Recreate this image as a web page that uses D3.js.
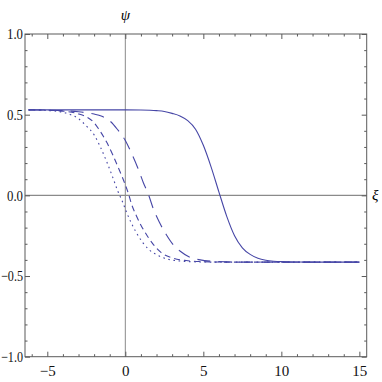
<!DOCTYPE html>
<html><head><meta charset="utf-8">
<script src="https://cdn.jsdelivr.net/npm/d3@7"></script>
<style>html,body{margin:0;padding:0;background:#fff}svg{display:block}
svg text{font-family:"Liberation Serif",serif;}
</style>
</head><body>
<script>
// ---- data ----
const solidX = [-6.2,-4,-2,0,1,2,2.5,3,3.5,4,4.5,5,5.5,6,6.5,7,7.5,8,8.5,9,9.5,10,11,12,13,15];
const solidY = [0.530,0.530,0.530,0.530,0.529,0.525,0.520,0.508,0.492,0.463,0.410,0.310,0.175,0.020,-0.130,-0.250,-0.325,-0.366,-0.390,-0.402,-0.408,-0.411,-0.413,-0.414,-0.414,-0.414];

const longX = [-6.2,-5,-4,-3,-2.5,-2,-1.5,-1,-0.5,0,0.4,0.8,1.15,1.5,1.8,2.2,2.6,3.1,3.5,4.1,4.8,5.5,6.5,8,15];
const longY = [0.530,0.528,0.525,0.518,0.512,0.504,0.490,0.462,0.408,0.340,0.260,0.170,0.080,0.000,-0.085,-0.170,-0.240,-0.310,-0.345,-0.382,-0.400,-0.408,-0.412,-0.414,-0.414];

const medX = [-6.2,-5,-4,-3,-2.5,-2,-1.7,-1.2,-0.8,-0.4,0,0.2,0.4,0.7,1.0,1.4,1.8,2.3,3.0,3.9,5,7,15];
const medY = [0.530,0.528,0.522,0.505,0.487,0.450,0.410,0.330,0.250,0.160,0.065,0.010,-0.055,-0.125,-0.185,-0.250,-0.305,-0.355,-0.387,-0.404,-0.411,-0.414,-0.414];

const dotX = [-6.2,-5,-4,-3.5,-3,-2.5,-2,-1.6,-1.2,-0.8,-0.5,-0.2,0.1,0.4,0.7,1.1,1.5,2,2.8,3.5,4.5,6,15];
const dotY = [0.530,0.526,0.515,0.500,0.475,0.430,0.375,0.300,0.210,0.110,0.030,-0.035,-0.110,-0.175,-0.230,-0.290,-0.335,-0.368,-0.398,-0.407,-0.412,-0.414,-0.414];

const xMajor = [-5,0,5,10,15];
const xMinor = [-6,-4,-3,-2,-1,1,2,3,4,6,7,8,9,11,12,13,14];
const yMajor = [-1,-0.5,0,0.5,1];
const yMajorLabels = ["\u22121.0","\u22120.5","0.0","0.5","1.0"];
const yMinor = [-0.9,-0.8,-0.7,-0.6,-0.4,-0.3,-0.2,-0.1,0.1,0.2,0.3,0.4,0.6,0.7,0.8,0.9];

// ---- drawing ----
const W = 382, H = 382;
const L = 25, R = 366.7, T = 34, B = 356.7;
const svg = d3.select("body").append("svg").attr("width", W).attr("height", H);
const x = d3.scaleLinear().domain([-6.43, 15.47]).range([L, R]);
const y = d3.scaleLinear().domain([-1, 1]).range([B, T]);

const frameColor = "#5a5a5a";
const font = "Liberation Serif";

// axes through origin
svg.append("line").attr("x1", x(0)).attr("x2", x(0)).attr("y1", T).attr("y2", B)
  .attr("stroke", "#8a8a8a").attr("stroke-width", 1);
svg.append("line").attr("x1", L).attr("x2", R).attr("y1", y(0)).attr("y2", y(0))
  .attr("stroke", "#8a8a8a").attr("stroke-width", 1.2);

function styleAxis(g, labels) {
  g.attr("font-family", font);
  g.select(".domain").remove();
  g.selectAll(".tick line").attr("stroke", frameColor).attr("stroke-width", 1);
  g.selectAll(".tick text").attr("font-family", font).attr("font-size", 15).attr("fill", "#111");
  if (!labels) g.selectAll(".tick text").remove();
}

const fmtY = v => yMajorLabels[yMajor.indexOf(v)];
const fmtX = v => (v < 0 ? "\u2212" + Math.abs(v) : String(v));

// bottom
svg.append("g").attr("transform", `translate(0,${B})`)
  .call(d3.axisBottom(x).tickValues(xMajor).tickSize(-5).tickPadding(9).tickFormat(fmtX))
  .call(g => styleAxis(g, true));
svg.append("g").attr("transform", `translate(0,${B})`)
  .call(d3.axisBottom(x).tickValues(xMinor).tickSize(-2.5).tickFormat(""))
  .call(g => styleAxis(g, false));
// top
svg.append("g").attr("transform", `translate(0,${T})`)
  .call(d3.axisTop(x).tickValues(xMajor).tickSize(-5).tickFormat(""))
  .call(g => styleAxis(g, false));
svg.append("g").attr("transform", `translate(0,${T})`)
  .call(d3.axisTop(x).tickValues(xMinor).tickSize(-2.5).tickFormat(""))
  .call(g => styleAxis(g, false));
// left
svg.append("g").attr("transform", `translate(${L},0)`)
  .call(d3.axisLeft(y).tickValues(yMajor).tickSize(-5).tickPadding(2).tickFormat(fmtY))
  .call(g => styleAxis(g, true))
  .call(g => g.selectAll(".tick text").attr("textLength", (d) => d < 0 ? 22 : 16).attr("lengthAdjust", "spacingAndGlyphs"));
svg.append("g").attr("transform", `translate(${L},0)`)
  .call(d3.axisLeft(y).tickValues(yMinor).tickSize(-2.5).tickFormat(""))
  .call(g => styleAxis(g, false));
// right
svg.append("g").attr("transform", `translate(${R},0)`)
  .call(d3.axisRight(y).tickValues(yMajor).tickSize(-5).tickFormat(""))
  .call(g => styleAxis(g, false));
svg.append("g").attr("transform", `translate(${R},0)`)
  .call(d3.axisRight(y).tickValues(yMinor).tickSize(-2.5).tickFormat(""))
  .call(g => styleAxis(g, false));

// frame
svg.append("rect").attr("x", L).attr("y", T).attr("width", R - L).attr("height", B - T)
  .attr("fill", "none").attr("stroke", frameColor).attr("stroke-width", 1);

// curves
const line = d3.line().x(d => x(d[0])).y(d => y(d[1])).curve(d3.curveMonotoneX);
const curveColor = "#4646a6";
const series = [
  {xs: dotX, ys: dotY, dash: "1.6,3.6"},
  {xs: medX, ys: medY, dash: "6,4"},
  {xs: longX, ys: longY, dash: "13,8"},
  {xs: solidX, ys: solidY, dash: null}
];
series.forEach(s => {
  const pts = s.xs.map((v, i) => [v, s.ys[i]]);
  const p = svg.append("path").datum(pts).attr("d", line)
    .attr("fill", "none").attr("stroke", curveColor).attr("stroke-width", 1.1);
  if (s.dash) p.attr("stroke-dasharray", s.dash);
});

// axis labels
svg.append("text").attr("x", x(0)).attr("y", 20).attr("text-anchor", "middle")
  .attr("font-family", font).attr("font-style", "italic").attr("font-size", 15).text("\u03c8");
svg.append("text").attr("x", 372).attr("y", y(0) + 5).attr("text-anchor", "start")
  .attr("font-family", font).attr("font-style", "italic").attr("font-size", 15).text("\u03be");
</script>
</body></html>
